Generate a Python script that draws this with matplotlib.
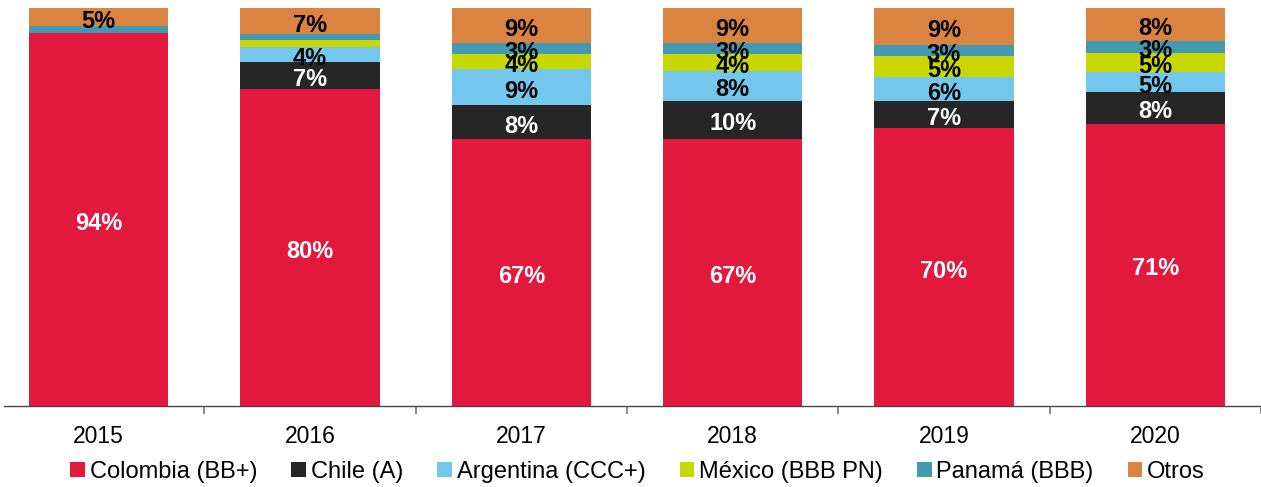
import numpy as np
import matplotlib.pyplot as plt

plt.rcParams['font.family'] = ['Liberation Sans', 'DejaVu Sans']

years = ['2015', '2016', '2017', '2018', '2019', '2020']
series = ['Colombia (BB+)', 'Chile (A)', 'Argentina (CCC+)', 'México (BBB PN)', 'Panamá (BBB)', 'Otros']

colombia = [93.6, 79.6, 67.1, 67.1, 69.8, 70.9]
chile = [0.0, 6.8, 8.5, 9.6, 6.8, 8.0]
argentina = [0.0, 3.8, 9.0, 7.5, 6.0, 4.9]
mexico = [0.0, 1.7, 3.9, 4.3, 5.4, 4.9]
panama = [1.8, 1.5, 2.6, 2.6, 2.6, 3.1]
otros = [4.6, 6.6, 8.9, 8.9, 9.4, 8.3]

colors = ['#E3183D', '#262626', '#74C7EC', '#C8D700', '#4399B1', '#DB8340']
label_colors = ['white', 'white', 'black', 'black', 'black', 'black']

data = [colombia, chile, argentina, mexico, panama, otros]

fig = plt.figure(figsize=(12.61, 4.87), dpi=100)
ax = fig.add_axes([4 / 1261, 81 / 487, 1257 / 1261, 398 / 487])

x = np.arange(len(years))
bottom = np.zeros(len(years))
handles = []
for vals, name, col, lc in zip(data, series, colors, label_colors):
    vals = np.array(vals)
    b = ax.bar(x, vals, width=0.66, bottom=bottom, color=col, label=name)
    handles.append(b)
    for xi, v, bt in zip(x, vals, bottom):
        if v >= 2.5:
            ax.text(xi, bt + v / 2 - 1.0, '%d%%' % round(v), ha='center', va='center',
                    fontsize=17, fontweight='bold', color=lc)
    bottom += vals

ax.set_xlim(-0.448, 5.476)
ax.set_ylim(0, 100)
ax.set_yticks([])
for s in ['top', 'right', 'left']:
    ax.spines[s].set_visible(False)
ax.spines['bottom'].set_color('#444444')
ax.spines['bottom'].set_linewidth(1.0)

ax.set_xticks(x + 0.5)
ax.set_xticklabels([])
ax.tick_params(axis='x', which='major', length=6, color='#777777', width=1.2)
ax.set_xticks(x, minor=True)
ax.set_xticklabels(years, minor=True, fontsize=16.5)
ax.tick_params(axis='x', which='minor', length=0, pad=14)

fig.legend(handles=handles, labels=series, loc='center', bbox_to_anchor=(0.5 + 7 / 1261, 15 / 487),
           ncol=6, frameon=False, fontsize=17, handlelength=0.62, handleheight=0.62,
           handletextpad=0.2, columnspacing=1.45)

fig.savefig('out.png', dpi=100)
